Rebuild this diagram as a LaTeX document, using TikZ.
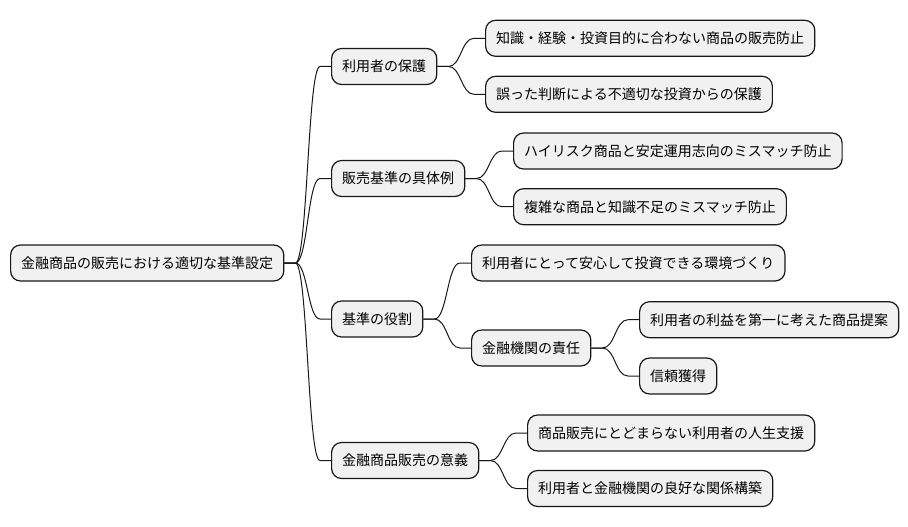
\documentclass[tikz,border=0pt]{standalone}
\usepackage{fontspec}
\setmainfont{Noto Sans CJK JP}
\usetikzlibrary{calc}
\definecolor{boxfill}{HTML}{F1F1F1}
\definecolor{boxline}{HTML}{181818}
\tikzset{
  mmbox/.style={draw=boxline, fill=boxfill, line width=1.2pt, rounded corners=10pt,
    minimum height=36pt, inner xsep=10.6pt, inner ysep=0pt, anchor=west,
    font=\fontsize{14pt}{16pt}\selectfont, text=black},
  conn/.style={draw=boxline, line width=1pt}
}
\newcommand\mmconn[2]{%
  \draw[conn] let \p1=(#1.east), \p2=(#2.west) in
    (\p1) -- (\x1+11pt,\y1)
    .. controls ({0.5*\x1+0.5*\x2},\y1) and ({0.5*\x1+0.5*\x2},\y2) ..
    (\x2-11pt,\y2) -- (\p2);}
\begin{document}
\begin{tikzpicture}[x=1pt,y=-1pt]
\useasboundingbox (0,0) rectangle (908,527);
% root
\node[mmbox] (r) at (10,263) {金融商品の販売における適切な基準設定};
% level 1
\node[mmbox] (a) at (331,66.5) {利用者の保護};
\node[mmbox] (b) at (331,178.5) {販売基準の具体例};
\node[mmbox] (c) at (331,319) {基準の役割};
\node[mmbox] (d) at (331,460.5) {金融商品販売の意義};
% level 2
\node[mmbox] (a1) at (485,38.3) {知識・経験・投資目的に合わない商品の販売防止};
\node[mmbox] (a2) at (485,94.3) {誤った判断による不適切な投資からの保護};
\node[mmbox] (b1) at (513,151) {ハイリスク商品と安定運用志向のミスマッチ防止};
\node[mmbox] (b2) at (513,206.7) {複雑な商品と知識不足のミスマッチ防止};
\node[mmbox] (c1) at (471,263) {利用者にとって安心して投資できる環境づくり};
\node[mmbox] (c2) at (471,348) {金融機関の責任};
\node[mmbox] (d1) at (527,433) {商品販売にとどまらない利用者の人生支援};
\node[mmbox] (d2) at (527,488.5) {利用者と金融機関の良好な関係構築};
% level 3
\node[mmbox] (c21) at (639,319.7) {利用者の利益を第一に考えた商品提案};
\node[mmbox] (c22) at (639,376) {信頼獲得};
% connectors
\mmconn{r}{a}\mmconn{r}{b}\mmconn{r}{c}\mmconn{r}{d}
\mmconn{a}{a1}\mmconn{a}{a2}
\mmconn{b}{b1}\mmconn{b}{b2}
\mmconn{c}{c1}\mmconn{c}{c2}
\mmconn{c2}{c21}\mmconn{c2}{c22}
\mmconn{d}{d1}\mmconn{d}{d2}
\end{tikzpicture}
\end{document}
